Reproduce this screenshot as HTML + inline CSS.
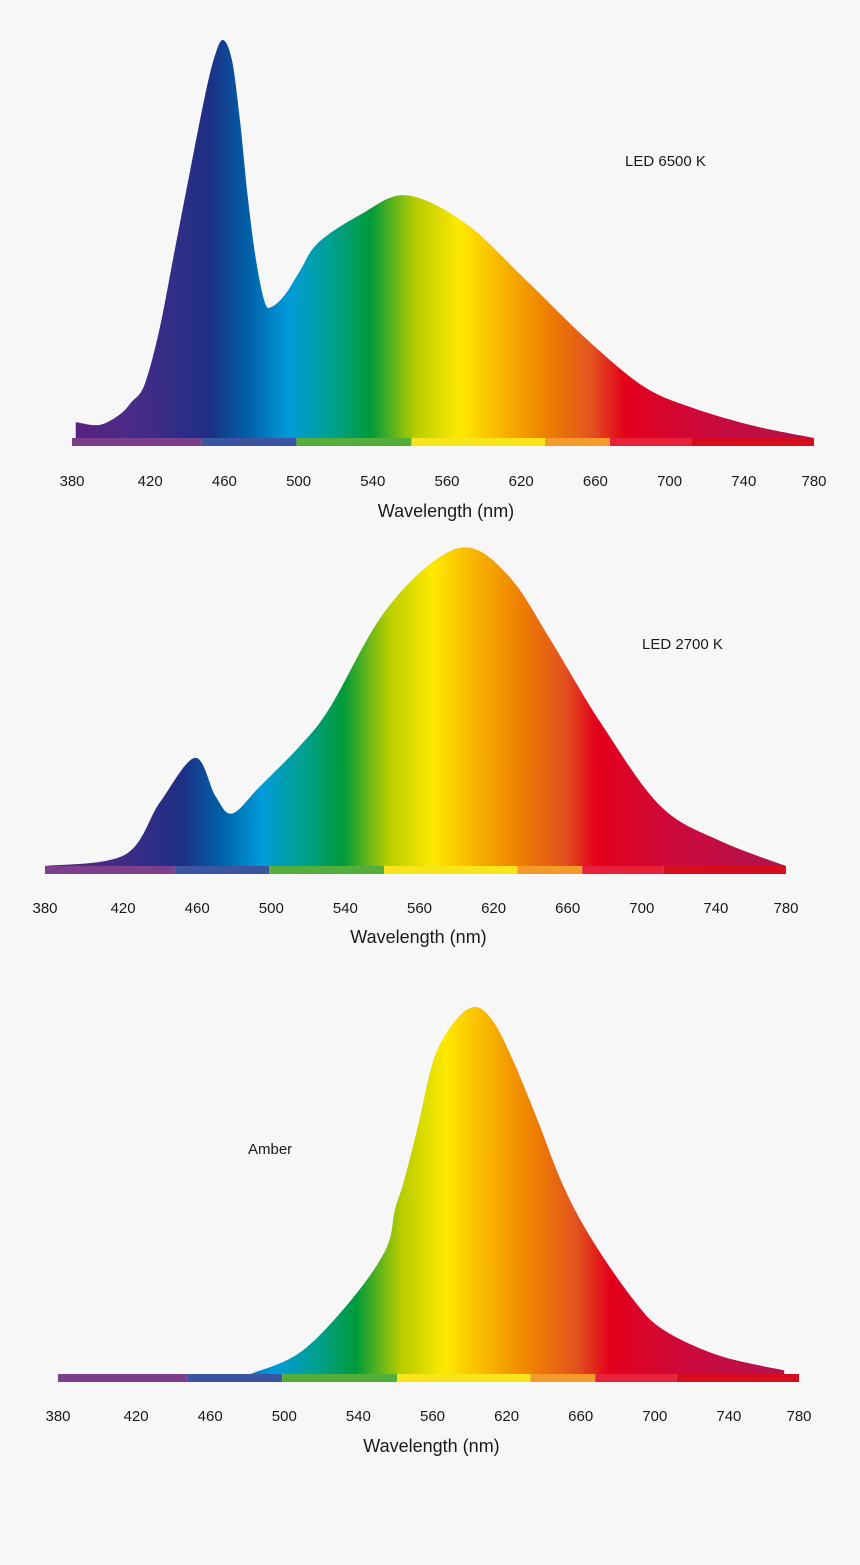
<!DOCTYPE html>
<html><head><meta charset="utf-8"><style>
html,body{margin:0;padding:0;background:#f7f7f7;}
svg{display:block;font-family:"Liberation Sans",sans-serif;}
</style></head><body>
<svg id="s" width="860" height="1565" viewBox="0 0 860 1565">
<rect width="860" height="1565" fill="#f7f7f7"/>
</svg>
<script>
const tickLabels = ["380","420","460","500","540","560","620","660","700","740","780"];
const wl6500 = [382,395,406,412,419,427,435.5,443.6,451.7,457,461.4,466.2,470.5,474.9,479.2,484,487.8,494.8,502.9,512.6,535,560,592,624,657,688,715,748,780];
const val6500 = [0.04,0.033,0.06,0.09,0.133,0.27,0.475,0.67,0.86,0.96,1.0,0.95,0.8,0.6,0.447,0.34,0.33,0.36,0.42,0.49,0.56,0.61,0.54,0.40,0.25,0.13,0.075,0.03,0];
const wl2700 = [380,423,442,461,472,481,496,518,534,561,588,610,632,653,680,712,744,780];
const val2700 = [0,0.035,0.2,0.34,0.22,0.165,0.25,0.38,0.5,0.78,0.95,1.0,0.9,0.71,0.45,0.19,0.08,0];
const wlAmber = [484,511,538,557,562,567,575,583,594,605,615,626,639,653,669,691,707,737,772];
const valAmber = [0,0.06,0.2,0.34,0.45,0.53,0.69,0.86,0.96,1.0,0.96,0.85,0.69,0.51,0.36,0.2,0.12,0.05,0.01];
const bandEdges = [380,450,501,563,635,670,714,780];
const bandColors = ["#7b3f8c","#3c55a0","#54ae3c","#f7e41a","#f39a2a","#e8203a","#d60d1e"];
const gradWl = [380,411,454,475,497,520,541,565,589,612,635,660,678,720,780];
const gradCol = ["#5b2283","#4c2a88","#1d2f84","#0060a8","#009bdb","#00a08e","#009a3a","#b6cc00","#ffe900","#f8b400","#ef8200","#e2531e","#e3001b","#cc0a3c","#b0124f"];

const NS="http://www.w3.org/2000/svg";
const svg=document.getElementById('s');
function mk(t,a,p){const e=document.createElementNS(NS,t);for(const k in a)e.setAttribute(k,a[k]);(p||svg).appendChild(e);return e;}

const charts=[
 {id:'led6500',x0:72,w:742,base:438,h:398,wl:wl6500,v:val6500,title:'LED 6500 K',tx:625,ty:166,ly:486,titleY:517},
 {id:'led2700',x0:45,w:741,base:866,h:318,wl:wl2700,v:val2700,title:'LED 2700 K',tx:642,ty:649,ly:913,titleY:943},
 {id:'amber',x0:58,w:741,base:1374,h:367,wl:wlAmber,v:valAmber,title:'Amber',tx:248,ty:1154,ly:1421,titleY:1452}
];
const defs=mk('defs',{});
charts.forEach((c,ci)=>{
 const xs=wl=>c.x0+(wl-380)/400*c.w;
 const ys=v=>c.base-v*c.h;
 const g=mk('g',{});  
 const gr=mk('linearGradient',{id:'gr'+ci,gradientUnits:'userSpaceOnUse',x1:xs(380),x2:xs(780),y1:0,y2:0},defs);
 gradWl.forEach((w,i)=>mk('stop',{offset:(w-380)/400,'stop-color':gradCol[i]},gr));
 const pts=c.wl.map((w,i)=>[xs(w),ys(c.v[i])]);
 let d='M'+pts[0][0]+','+c.base+' L'+pts[0][0]+','+pts[0][1];
 for(let i=0;i<pts.length-1;i++){
  const p0=pts[Math.max(0,i-1)],p1=pts[i],p2=pts[i+1],p3=pts[Math.min(pts.length-1,i+2)];
  const c1=[p1[0]+(p2[0]-p0[0])/6,p1[1]+(p2[1]-p0[1])/6];
  const c2=[p2[0]-(p3[0]-p1[0])/6,p2[1]-(p3[1]-p1[1])/6];
  d+=` C${c1[0]},${c1[1]} ${c2[0]},${c2[1]} ${p2[0]},${p2[1]}`;
 }
 d+=' L'+pts[pts.length-1][0]+','+c.base+' Z';
 const area=mk('path',{d:d,fill:'url(#gr'+ci+')'},g);
 
 
 for(let i=0;i<bandColors.length;i++){
  const r=mk('rect',{x:xs(bandEdges[i]),y:c.base,width:xs(bandEdges[i+1])-xs(bandEdges[i]),height:8,fill:bandColors[i]},g);
  
  
 }
 tickLabels.forEach((t,i)=>{
  const tx=mk('text',{x:c.x0+i/10*c.w+(i>0&&i<10?4:0),y:c.ly,'text-anchor':'middle','font-size':15,fill:'#1a1a1a'},g);
  tx.textContent=t;
  
  
 });
 const at=mk('text',{x:c.x0+c.w/2+3,y:c.titleY,'text-anchor':'middle','font-size':18,fill:'#1a1a1a'},g);
 at.textContent='Wavelength (nm)';
 
 
 const lt=mk('text',{x:c.tx,y:c.ty,'font-size':15,fill:'#1a1a1a'},g);
 lt.textContent=c.title;
 
 
});
</script>
</body></html>
